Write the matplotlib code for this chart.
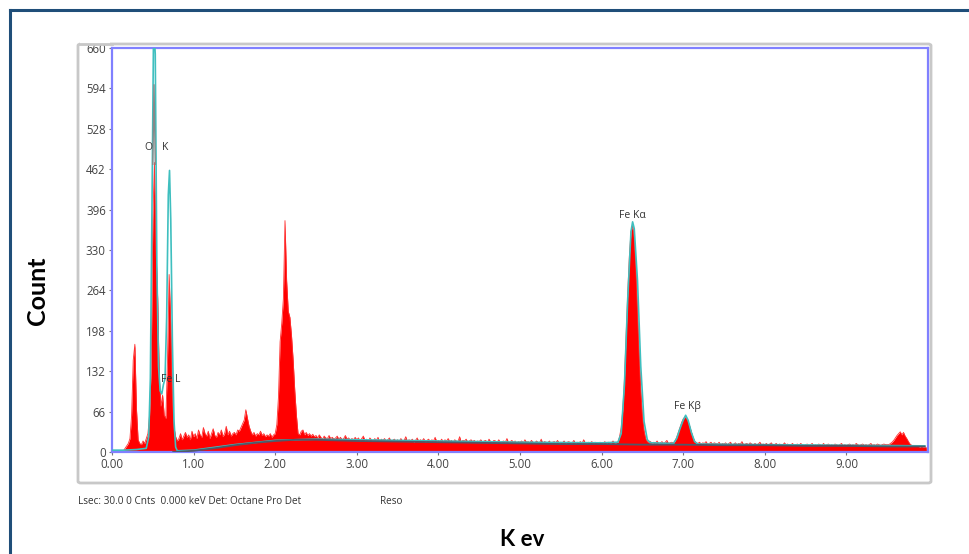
import numpy as np
import matplotlib
matplotlib.use("Agg")
import matplotlib.pyplot as plt
from matplotlib.patches import FancyBboxPatch, Rectangle
from matplotlib.lines import Line2D

# ---------------- data ----------------
channel_step_kev = 0.02  # spectrum channel width (keV), first channel at 0.00 keV
counts = [
    # 0.00 - 0.48
    0, 0, 0, 0, 0, 0, 0, 2, 6, 10, 14, 22, 60, 150, 176, 70, 20, 14, 12, 18, 14, 22, 30, 60, 140,
    # 0.50 - 0.98
    380, 473, 330, 250, 120, 75, 93, 60, 55, 150, 290, 210, 90, 40, 25, 18, 22, 30, 20, 26, 32, 24, 28, 20, 34,
    # 1.00 - 1.48
    25, 30, 22, 36, 28, 24, 40, 30, 26, 34, 22, 30, 38, 27, 24, 32, 28, 36, 25, 30, 42, 28, 34, 26, 30,
    # 1.50 - 1.98
    32, 28, 36, 34, 40, 46, 52, 69, 55, 42, 34, 28, 32, 26, 30, 28, 34, 27, 30, 25, 28, 26, 30, 24, 28,
    # 2.00 - 2.48
    30, 45, 90, 180, 210, 250, 378, 280, 230, 220, 190, 150, 100, 60, 30, 28, 34, 36, 28, 32, 27, 30, 26, 29, 25,
    # 2.50 - 2.98
    27, 23, 28, 24, 21, 26, 23, 22, 27, 22, 24, 21, 23, 26, 21, 24, 20, 22, 27, 21, 23, 19, 22, 20, 24,
    # 3.00 - 3.48
    20, 23, 18, 22, 26, 19, 21, 17, 23, 20, 18, 22, 19, 24, 17, 21, 19, 22, 18, 20, 23, 17, 19, 21, 18,
    # 3.50 - 3.98
    20, 17, 22, 18, 19, 25, 17, 20, 18, 21, 16, 19, 23, 17, 20, 18, 22, 16, 19, 21, 17, 20, 18, 24, 17,
    # 4.00 - 4.48
    19, 17, 21, 16, 20, 18, 22, 17, 19, 16, 20, 18, 17, 25, 16, 19, 18, 21, 16, 18, 20, 17, 19, 16, 18,
    # 4.50 - 4.98
    17, 20, 16, 18, 19, 15, 21, 17, 16, 19, 18, 16, 20, 15, 17, 18, 16, 22, 15, 17, 19, 16, 18, 15, 17,
    # 5.00 - 5.48
    16, 18, 15, 20, 16, 17, 15, 19, 16, 14, 18, 16, 15, 21, 14, 17, 16, 15, 18, 14, 16, 17, 15, 19, 14,
    # 5.50 - 5.98
    16, 15, 18, 14, 16, 17, 14, 15, 19, 14, 16, 15, 17, 14, 20, 15, 14, 16, 15, 17, 14, 16, 15, 14, 16,
    # 6.00 - 6.48
    15, 14, 17, 13, 16, 14, 15, 18, 14, 15, 16, 25, 40, 70, 120, 190, 260, 320, 360, 370, 350, 300, 230, 160, 100,
    # 6.50 - 6.98
    60, 35, 22, 17, 15, 17, 14, 16, 15, 18, 14, 15, 17, 14, 16, 19, 14, 15, 16, 14, 18, 24, 32, 40, 48,
    # 7.00 - 7.48
    54, 57, 55, 50, 42, 33, 24, 18, 15, 14, 16, 13, 15, 14, 17, 13, 14, 16, 13, 15, 14, 13, 16, 12, 14,
    # 7.50 - 7.98
    13, 15, 12, 14, 16, 12, 13, 15, 12, 14, 13, 17, 12, 13, 14, 12, 15, 13, 12, 14, 12, 13, 16, 12, 13,
    # 8.00 - 8.48
    12, 14, 11, 13, 15, 11, 12, 14, 11, 13, 12, 11, 15, 12, 13, 11, 12, 14, 11, 12, 13, 11, 14, 12, 11,
    # 8.50 - 8.98
    12, 13, 11, 12, 14, 11, 12, 11, 13, 12, 11, 14, 11, 12, 13, 11, 12, 11, 13, 12, 11, 12, 14, 11, 12,
    # 9.00 - 9.48
    11, 12, 13, 11, 12, 11, 14, 12, 11, 12, 13, 11, 12, 11, 12, 14, 11, 12, 11, 13, 12, 11, 12, 13, 12,
    # 9.50 - 9.98
    12, 12, 14, 16, 19, 23, 27, 30, 33, 28, 32, 26, 22, 17, 13, 11, 10, 9, 10, 9, 8, 9, 8, 8, 7,
]

# fitted spectrum (cyan)
fit_kev = [0.00, 0.14, 0.30, 0.42, 0.45, 0.47, 0.49, 0.51, 0.53, 0.55, 0.57, 0.59, 0.61, 0.63,
           0.65, 0.67, 0.69, 0.705, 0.72, 0.74, 0.76, 0.78, 0.80, 1.00, 1.50, 2.00, 2.50, 3.00,
           4.00, 5.00, 6.00, 6.20, 6.24, 6.28, 6.32, 6.36, 6.38, 6.40, 6.44, 6.48, 6.52, 6.56,
           6.60, 6.88, 6.92, 6.96, 7.00, 7.03, 7.06, 7.10, 7.14, 7.18, 8.00, 9.00, 9.96]
fit_counts = [3, 3, 4, 6, 25, 120, 400, 700, 650, 300, 140, 100, 95, 110,
              120, 220, 420, 460, 380, 180, 50, 8, 2, 3, 12, 19, 21, 20,
              18, 16, 15, 16, 30, 110, 250, 360, 376, 365, 280, 140, 50, 20,
              15, 14, 22, 38, 52, 60, 52, 32, 17, 13, 12, 11, 10]

# background (dark grey)
bg_kev = [0.75, 1.0, 1.25, 1.5, 1.75, 2.0, 2.25, 2.5, 2.75, 3.0, 3.5, 4.0, 4.5, 5.0,
          5.5, 6.0, 6.5, 7.0, 7.5, 8.0, 8.5, 9.0, 9.5, 9.96]
bg_counts = [0, 2, 6, 11, 15, 18, 20, 20, 19, 18, 17, 16, 15, 14,
             13, 13, 12, 12, 11, 11, 10, 10, 9, 9]

# raw-peak outline (grey) inside O K
ok_outline_kev = [0.50, 0.515, 0.53]
ok_outline_counts = [470, 600, 470]

# peak labels: text, keV, counts
peak_labels = ["O", "K", "Fe L", "Fe K\u03b1", "Fe K\u03b2"]
peak_label_kev = [0.44, 0.65, 0.72, 6.38, 7.05]
peak_label_counts = [497, 497, 118, 386, 75]

y_ticks = [0, 66, 132, 198, 264, 330, 396, 462, 528, 594, 660]
x_ticks = [0, 1, 2, 3, 4, 5, 6, 7, 8, 9]
x_tick_labels = ["0.00", "1.00", "2.00", "3.00", "4.00", "5.00", "6.00", "7.00", "8.00", "9.00"]

# ---------------- figure ----------------
W, H = 970, 554
fig = plt.figure(figsize=(W / 100, H / 100), dpi=100)
fig.patch.set_facecolor("white")

def fx(px):
    return px / W

def fy(py):
    return 1 - py / H

# outer dark-blue frame (left and top edges visible)
fig.add_artist(Line2D([fx(10), fx(10)], [fy(10), 0], transform=fig.transFigure,
                      color="#1f4e79", lw=2.2))
fig.add_artist(Line2D([fx(10), 1], [fy(10), fy(10)], transform=fig.transFigure,
                      color="#1f4e79", lw=2.2))

# grey panel
panel = FancyBboxPatch((fx(78), fy(483)), fx(931) - fx(78), fy(44) - fy(483),
                       boxstyle="round,pad=0,rounding_size=0.003",
                       transform=fig.transFigure, facecolor="white",
                       edgecolor="#c8c8c8", lw=2.0, zorder=0)
fig.add_artist(panel)

ax = fig.add_axes([fx(112), fy(452), fx(928) - fx(112), fy(48) - fy(452)])
ax.set_facecolor("white")

kev = np.arange(len(counts)) * channel_step_kev
cnt = np.array(counts, dtype=float)

ax.fill_between(kev, 0, cnt, color="#ff0000", linewidth=0, zorder=2)
ax.plot(kev, cnt, color="#ff3030", lw=0.6, zorder=2)
ax.plot(fit_kev, fit_counts, color="#3fbfbf", lw=1.2, zorder=3)
ax.plot(bg_kev, bg_counts, color="#505868", lw=1.3, zorder=4)
ax.plot(ok_outline_kev, ok_outline_counts, color="#888888", lw=1.0, zorder=3)
ax.axhline(1.5, color="#ff0000", lw=1.0, zorder=2)

label_font = ["Open Sans", "DejaVu Sans"]
for t, xk, yc in zip(peak_labels, peak_label_kev, peak_label_counts):
    ax.text(xk, yc, t, ha="center", va="center", fontsize=7.5,
            color="#333333", family=label_font, zorder=5)

ax.set_xlim(0, 10)
ax.set_ylim(0, 660)
ax.set_xticks(x_ticks)
ax.set_xticklabels(x_tick_labels)
ax.set_yticks(y_ticks)
ax.set_yticklabels([str(v) for v in y_ticks])
ax.tick_params(axis="both", length=2.5, width=0.8, color="#777777",
               labelsize=8.3, labelcolor="#444444", pad=2)
for lbl in ax.get_xticklabels() + ax.get_yticklabels():
    lbl.set_family(label_font)

for s in ax.spines.values():
    s.set_color("#8080ff")
    s.set_linewidth(1.6)

# mask the top half of the clipped "660" label above the grey panel edge
fig.add_artist(Rectangle((fx(80), fy(43.5)), fx(110) - fx(80), fy(30) - fy(43.5),
                         transform=fig.transFigure, facecolor="white",
                         edgecolor="none", zorder=5))
fig.add_artist(Line2D([fx(80), fx(112)], [fy(44), fy(44)], transform=fig.transFigure,
                      color="#c8c8c8", lw=2.0, zorder=6))

# outside texts
fig.text(fx(38), fy(291), "Count", rotation=90, ha="center", va="center",
         fontsize=18, fontweight="bold", family=["Lato", "DejaVu Sans"], color="black")
fig.text(fx(522), fy(540), "K ev", ha="center", va="center",
         fontsize=16, fontweight="bold", family=["Lato", "DejaVu Sans"], color="black")
fig.text(fx(78), fy(502), "Lsec: 30.0 0 Cnts  0.000 keV Det: Octane Pro Det",
         ha="left", va="center", fontsize=7.2, family=label_font, color="#333333")
fig.text(fx(380), fy(502), "Reso", ha="left", va="center", fontsize=7.2,
         family=label_font, color="#333333")

fig.savefig("out.png", dpi=100, facecolor="white")
